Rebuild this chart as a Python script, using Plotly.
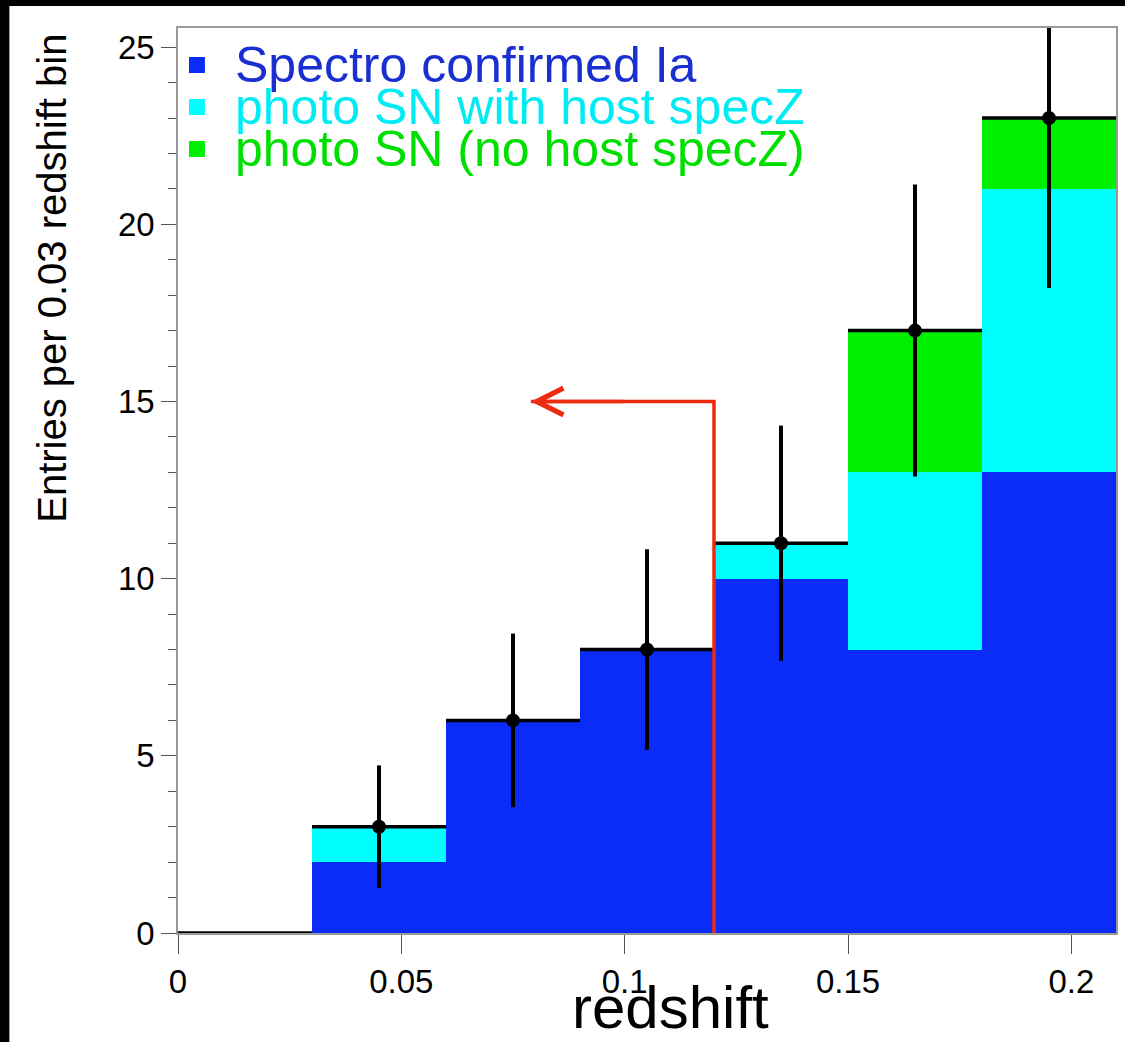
import plotly.graph_objects as go

# ---- data ----
bin_lo = [0.00, 0.03, 0.06, 0.09, 0.12, 0.15, 0.18]
bin_hi = [0.03, 0.06, 0.09, 0.12, 0.15, 0.18, 0.21]
spectro = [0, 2, 6, 8, 10, 8, 13]
photo_host = [0, 1, 0, 0, 1, 5, 8]
photo_nohost = [0, 0, 0, 0, 0, 4, 2]
totals = [0, 3, 6, 8, 11, 17, 23]
pt_x = [0.045, 0.075, 0.105, 0.135, 0.165, 0.195]
pt_y = [3, 6, 8, 11, 17, 23]
pt_err = [1.73, 2.45, 2.83, 3.32, 4.12, 4.80]
arrow_x = [0.12, 0.12, 0.079]
arrow_y = [0, 15, 15]
legend_names = ["Spectro confirmed Ia", "photo SN with host specZ", "photo SN (no host specZ)"]

C_BLUE = "#0b2cf6"
C_CYAN = "#00ffff"
C_GREEN = "#00ee00"
T_BLUE = "#1a2fd2"
T_CYAN = "#00ecf5"
T_GREEN = "#00e000"
FONT = "Liberation Sans, Arial, sans-serif"

centers = [(a + b) / 2 for a, b in zip(bin_lo, bin_hi)]
widths = [b - a for a, b in zip(bin_lo, bin_hi)]

fig = go.Figure()
for vals, col in [(spectro, C_BLUE), (photo_host, C_CYAN), (photo_nohost, C_GREEN)]:
    fig.add_trace(go.Bar(x=centers, y=vals, width=widths, marker=dict(color=col, line=dict(width=0)),
                         showlegend=False, hoverinfo="skip"))

# histogram top outline
ox, oy = [], []
for a, b, t in zip(bin_lo, bin_hi, totals):
    ox += [a, b, None]
    oy += [t, t, None]
fig.add_trace(go.Scatter(x=ox, y=oy, mode="lines", line=dict(color="black", width=3.5),
                         showlegend=False, hoverinfo="skip"))

# red arrow
fig.add_trace(go.Scatter(x=arrow_x, y=arrow_y, mode="lines", line=dict(color="#ee2a10", width=3.5),
                         showlegend=False, hoverinfo="skip"))
fig.add_annotation(x=arrow_x[2], y=arrow_y[2], ax=arrow_x[1] - 0.02, ay=arrow_y[2], xref="x", yref="y",
                   axref="x", ayref="y", showarrow=True, arrowhead=5, arrowsize=1.5, arrowwidth=3.5,
                   arrowcolor="#ee2a10", text="")

# data points
fig.add_trace(go.Scatter(x=pt_x, y=pt_y, mode="markers",
                         marker=dict(color="black", size=14),
                         error_y=dict(type="data", array=pt_err, color="black", thickness=4, width=0),
                         showlegend=False, hoverinfo="skip", cliponaxis=True))

L, R, T, B = 178, 9, 28, 109
W, H = 1127, 1042
pw, ph = W - L - R, H - T - B

def px(xp):
    return (xp - L) / pw

def py(yp):
    return (H - B - yp) / ph

# legend (manual)
rows = [65, 107, 149]
for name, tcol, fcol, r in zip(legend_names, [T_BLUE, T_CYAN, T_GREEN], [C_BLUE, C_CYAN, C_GREEN], rows):
    fig.add_annotation(xref="paper", yref="paper", x=px(233), y=py(r), xanchor="left", yanchor="middle",
                       text=name, showarrow=False, font=dict(size=50, color=tcol, family=FONT))
    fig.add_shape(type="rect", xref="paper", yref="paper", x0=px(189), x1=px(205), y0=py(r + 8), y1=py(r - 8),
                  fillcolor=fcol, line=dict(width=0))

# axis titles
fig.add_annotation(xref="paper", yref="paper", x=px(51), y=py(32), xanchor="center", yanchor="top",
                   textangle=-90, text="Entries per 0.03 redshift bin", showarrow=False,
                   font=dict(size=40, color="black", family=FONT))
fig.add_annotation(xref="paper", yref="paper", x=px(672), y=py(1008), xanchor="center", yanchor="middle",
                   text="redshift", showarrow=False,
                   font=dict(size=60, color="black", family=FONT))

# black border bands of the picture
fig.add_shape(type="rect", xref="paper", yref="paper", x0=px(0), x1=px(W), y0=py(6), y1=py(-2),
              fillcolor="black", line=dict(width=0), layer="above")
fig.add_shape(type="rect", xref="paper", yref="paper", x0=px(-2), x1=px(9), y0=py(H + 2), y1=py(0),
              fillcolor="black", line=dict(width=0), layer="above")

fig.update_layout(
    width=W, height=H, margin=dict(l=L, r=R, t=T, b=B),
    paper_bgcolor="white", plot_bgcolor="white", barmode="stack", bargap=0,
    font=dict(family=FONT, color="black"),
    showlegend=False,
)
fig.update_xaxes(range=[0, 0.21], tickvals=[0, 0.05, 0.1, 0.15, 0.2], ticktext=["0", "0.05", "0.1", "0.15", "0.2"],
                 ticks="outside", ticklen=19, tickwidth=1, tickcolor="#555", showgrid=False, zeroline=False,
                 showline=True, linecolor="#999", linewidth=1.5, mirror=True, tickfont=dict(size=33))
fig.update_yaxes(range=[0, 25.54], tickvals=[0, 5, 10, 15, 20, 25], ticks="outside", ticklen=15, tickwidth=1,
                 tickcolor="#555", showgrid=False, zeroline=False, showline=True, linecolor="#999",
                 linewidth=1.5, mirror=True, tickfont=dict(size=33),
                 minor=dict(tickvals=[v for v in range(0, 26)], ticks="outside", ticklen=8, tickcolor="#555",
                            tickwidth=1, showgrid=False))

fig.write_html("out.html")
